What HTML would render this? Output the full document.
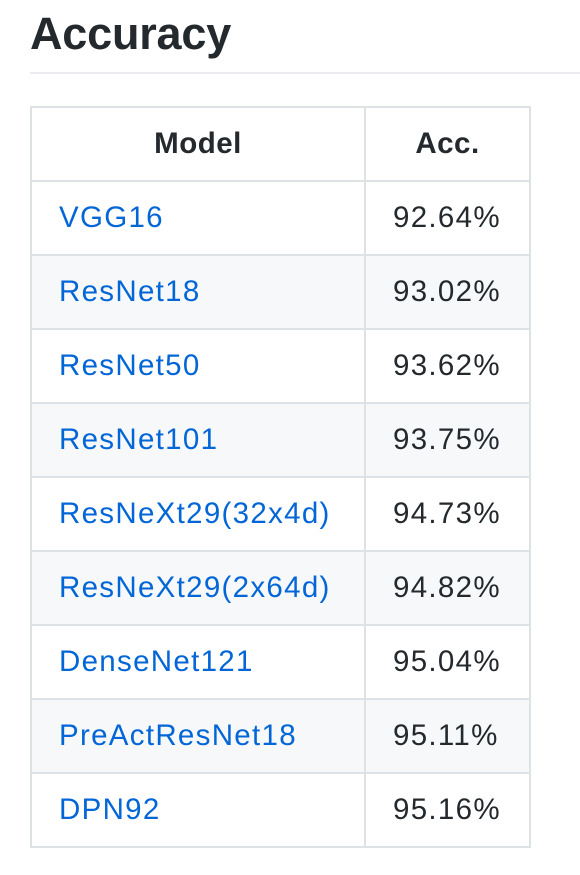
<!DOCTYPE html>
<html><head><meta charset="utf-8"><style>
html,body{margin:0;padding:0;background:#fff;width:580px;height:875px;overflow:hidden;font-family:"Liberation Sans",Arial,sans-serif;color:#24292e}
h2{position:absolute;left:30px;top:3px;margin:0;font-size:45px;font-weight:bold;line-height:62px;letter-spacing:-0.2px}
.rule{position:absolute;left:30px;top:72px;width:550px;height:2px;background:#eaecef}
table{position:absolute;left:30px;top:106px;border-collapse:collapse;font-size:29.5px;letter-spacing:1.3px}
td,th{border:2px solid #dfe2e5;height:74px;padding:0 27px;box-sizing:border-box}
th{font-weight:bold;text-align:center;letter-spacing:0.5px}
td.m{width:334px}
td.a{width:165px}
tr.s td{background:#f6f8fa}
a{color:#0366d6;text-decoration:none}
</style></head><body>
<h2>Accuracy</h2>
<div class="rule"></div>
<table>
<tr><th>Model</th><th>Acc.</th></tr>
<tbody id="tb"></tbody>
</table>
<script>
const models=["VGG16","ResNet18","ResNet50","ResNet101","ResNeXt29(32x4d)","ResNeXt29(2x64d)","DenseNet121","PreActResNet18","DPN92"];
const accs=["92.64%","93.02%","93.62%","93.75%","94.73%","94.82%","95.04%","95.11%","95.16%"];
const tb=document.getElementById('tb');
models.forEach((m,i)=>{
  const tr=document.createElement('tr');
  
  
  if(i%2===1)tr.className='s';
  const td1=document.createElement('td');td1.className='m';
  
  
  const a=document.createElement('a');a.textContent=m;a.href='#';
  
  
  td1.appendChild(a);
  const td2=document.createElement('td');td2.className='a';td2.textContent=accs[i];
  
  
  tr.appendChild(td1);tr.appendChild(td2);tb.appendChild(tr);
});
</script>
</body></html>
